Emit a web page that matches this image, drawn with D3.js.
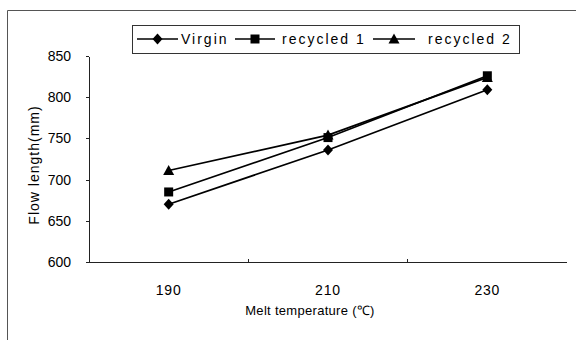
<!DOCTYPE html>
<html>
<head>
<meta charset="utf-8">
<script src="https://cdn.jsdelivr.net/npm/d3@7/dist/d3.min.js"></script>
<style>
  body { margin: 0; background: #fff; }
  svg { display: block; font-family: 'Liberation Sans', Arial, sans-serif; }
  .axis path, .axis line { stroke: #222; shape-rendering: crispEdges; }
  .axis text { font-size: 14px; fill: #000; }
</style>
</head>
<body>
<svg id="chart" width="576" height="340"></svg>
<script>
const temps = [190, 210, 230];
const yTicks = [600, 650, 700, 750, 800, 850];
const virgin = [670, 736, 809];
const recycled1 = [685, 751, 826];
const recycled2 = [711, 754, 824];

const series = [
  { name: 'Virgin', values: virgin, marker: 'diamond' },
  { name: 'recycled 2', values: recycled2, marker: 'triangle' },
  { name: 'recycled 1', values: recycled1, marker: 'square' },
];

const svg = d3.select('#chart');

// scanned frame around the figure
svg.append('path')
  .attr('d', 'M7.5,340 V10.5 H576')
  .attr('fill', 'none')
  .attr('stroke', '#555')
  .attr('stroke-width', 1);

const x = d3.scaleBand().domain(temps).range([89, 567]).paddingInner(0).paddingOuter(0);
const y = d3.scaleLinear().domain([600, 850]).range([262, 56]);

function markerPath(type) {
  if (type === 'diamond') return 'M0,-5.5L5,0L0,5.5L-5,0Z';
  if (type === 'square') return 'M-4.5,-4.5H4.5V4.5H-4.5Z';
  return 'M0,-5.5L5.5,4.5H-5.5Z';
}

// y axis
svg.append('g')
  .attr('class', 'axis')
  .attr('transform', `translate(${x.range()[0]},0)`)
  .call(d3.axisLeft(y).tickValues(yTicks).tickSizeInner(3).tickSizeOuter(0).tickPadding(15));

// x axis: ticks sit between categories, labels at category centres
const xAxis = svg.append('g')
  .attr('class', 'axis')
  .attr('transform', `translate(0,${y(600)})`);
xAxis.append('line')
  .attr('x1', x.range()[0])
  .attr('x2', x.range()[1])
  .attr('stroke', '#222');
xAxis.selectAll('.tick-mark')
  .data(temps.slice(1))
  .enter()
  .append('line')
  .attr('class', 'tick-mark')
  .attr('x1', d => x(d))
  .attr('x2', d => x(d))
  .attr('y1', 0)
  .attr('y2', -3)
  .attr('stroke', '#222');
xAxis.selectAll('.tick-label')
  .data(temps)
  .enter()
  .append('text')
  .attr('class', 'tick-label')
  .attr('x', d => x(d) + x.bandwidth() / 2)
  .attr('y', 33)
  .attr('text-anchor', 'middle')
  .style('font-size', '14px')
  .style('letter-spacing', '0.8px')
  .text(d => d);

// axis titles
svg.append('text')
  .attr('x', 310)
  .attr('y', 315)
  .attr('text-anchor', 'middle')
  .style('font-size', '13px')
  .style('letter-spacing', '0.3px')
  .text('Melt temperature (\u2103)');

svg.append('text')
  .attr('transform', 'translate(39,165) rotate(-90)')
  .attr('text-anchor', 'middle')
  .style('font-size', '14px')
  .style('letter-spacing', '1px')
  .text('Flow length(mm)');

// lines + markers
const line = d3.line()
  .x((d, i) => x(temps[i]) + x.bandwidth() / 2)
  .y(d => y(d));

const groups = svg.append('g')
  .selectAll('g')
  .data(series)
  .enter()
  .append('g');

groups.append('path')
  .attr('d', d => line(d.values))
  .attr('fill', 'none')
  .attr('stroke', '#000')
  .attr('stroke-width', 1.7);

groups.selectAll('path.marker')
  .data(d => d.values.map((v, i) => ({ v, i, marker: d.marker })))
  .enter()
  .append('path')
  .attr('class', 'marker')
  .attr('d', d => markerPath(d.marker))
  .attr('transform', d => `translate(${x(temps[d.i]) + x.bandwidth() / 2},${y(d.v)})`)
  .attr('fill', '#000');

// legend
const legendItems = [
  { name: 'Virgin', marker: 'diamond', x0: 137, x1: 178, tx: 181 },
  { name: 'recycled 1', marker: 'square', x0: 235, x1: 275, tx: 282 },
  { name: 'recycled 2', marker: 'triangle', x0: 373, x1: 415, tx: 428 },
];

const legend = svg.append('g');
legend.append('rect')
  .attr('x', 132.5)
  .attr('y', 25.5)
  .attr('width', 387)
  .attr('height', 28)
  .attr('fill', '#fff')
  .attr('stroke', '#333');

const li = legend.selectAll('g.item')
  .data(legendItems)
  .enter()
  .append('g')
  .attr('class', 'item');
li.append('line')
  .attr('x1', d => d.x0)
  .attr('x2', d => d.x1)
  .attr('y1', 39)
  .attr('y2', 39)
  .attr('stroke', '#000')
  .attr('stroke-width', 1.7);
li.append('path')
  .attr('d', d => markerPath(d.marker))
  .attr('transform', d => `translate(${(d.x0 + d.x1) / 2},39)`);
li.append('text')
  .attr('x', d => d.tx)
  .attr('y', 44)
  .style('font-size', '14px')
  .style('letter-spacing', '2px')
  .text(d => d.name);
</script>
</body>
</html>
